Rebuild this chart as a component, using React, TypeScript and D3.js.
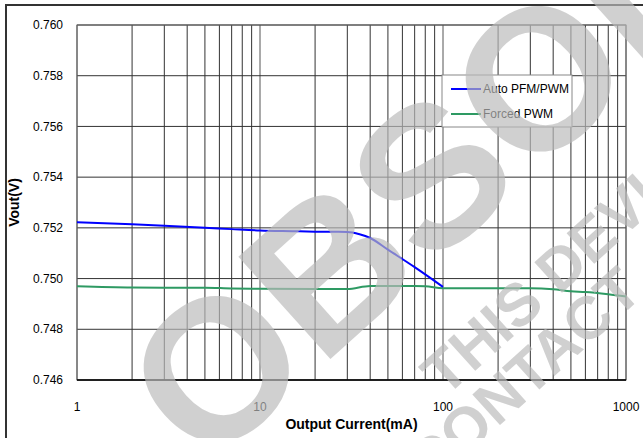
import React from "react";
import * as d3 from "d3";

const currentsAuto = [1, 2, 3, 5, 7, 10, 15, 20, 30, 35, 40, 50, 70, 100];
const vAuto = [0.75222, 0.75214, 0.75208, 0.752, 0.75195, 0.7519, 0.75187, 0.75185, 0.75184, 0.75175, 0.7516, 0.75114, 0.75045, 0.74967];
const currentsForced = [1, 2, 3, 5, 7, 10, 20, 30, 40, 50, 70, 80, 100, 200, 300, 400, 500, 600, 800, 1000];
const vForced = [0.7497, 0.74965, 0.74964, 0.74964, 0.74961, 0.7496, 0.74959, 0.74959, 0.74971, 0.74971, 0.74971, 0.7497, 0.74962, 0.74962, 0.74962, 0.74958, 0.7495, 0.74947, 0.74938, 0.74929];
const yTicks = [0.746, 0.748, 0.75, 0.752, 0.754, 0.756, 0.758, 0.76];
const xTicks = [1, 10, 100, 1000];
const seriesNames = ["Auto PFM/PWM", "Forced PWM"];
const seriesColors = ["#0000ff", "#2e9a63"];

const W = 643, H = 438;
const L = 77, R = 626, T = 25, B = 380;
const font = "'Liberation Sans', Arial, sans-serif";

export default function App() {
  const x = d3.scaleLog().domain([1, 1000]).range([L, R]);
  const y = d3.scaleLinear().domain([0.746, 0.76]).range([B, T]);
  const minor: number[] = [];
  for (let d = 1; d < 1000; d *= 10) for (let k = 2; k <= 9; k++) minor.push(d * k);
  const line = d3.line<[number, number]>().x(d => x(d[0])).y(d => y(d[1])).curve(d3.curveMonotoneX);
  const autoPts = currentsAuto.map((c, i) => [c, vAuto[i]] as [number, number]);
  const forcedPts = currentsForced.map((c, i) => [c, vForced[i]] as [number, number]);
  const wm = { fill: "#bbbbbb", opacity: 0.68, fontFamily: font, fontWeight: 700 } as const;
  return (
    <svg width={W} height={H} style={{ position: "absolute", left: 0, top: 0, background: "#fff" }}>
      <rect x={6} y={5} width={W} height={H} fill="#fff" stroke="#333" strokeWidth={2} />
      {minor.map(v => (
        <line key={"m" + v} x1={x(v)} x2={x(v)} y1={T} y2={B} stroke="#333" strokeWidth={1} />
      ))}
      {xTicks.map(v => (
        <line key={"M" + v} x1={x(v)} x2={x(v)} y1={T} y2={B} stroke="#555" strokeWidth={1} />
      ))}
      {yTicks.map(v => (
        <line key={"h" + v} x1={L} x2={R} y1={y(v)} y2={y(v)} stroke="#333" strokeWidth={1} />
      ))}
      <rect x={L} y={T} width={R - L} height={B - T} fill="none" stroke="#666" strokeWidth={1} />
      <line x1={L} x2={R} y1={B} y2={B} stroke="#000" strokeWidth={1.5} />
      <path d={line(forcedPts) || ""} fill="none" stroke={seriesColors[1]} strokeWidth={2} />
      <path d={line(autoPts) || ""} fill="none" stroke={seriesColors[0]} strokeWidth={2} />
      {yTicks.map(v => (
        <text key={"yl" + v} x={63} y={y(v)} dy="0.35em" textAnchor="end" fontFamily={font} fontSize={12}>
          {v.toFixed(3)}
        </text>
      ))}
      {xTicks.map(v => (
        <text key={"xl" + v} x={x(v)} y={411} textAnchor="middle" fontFamily={font} fontSize={12}>
          {v}
        </text>
      ))}
      <text x={(L + R) / 2} y={429} textAnchor="middle" fontFamily={font} fontSize={14} fontWeight={700}>
        Output Current(mA)
      </text>
      <text transform={`translate(19,${(T + B) / 2}) rotate(-90)`} textAnchor="middle" fontFamily={font} fontSize={14} fontWeight={700}>
        Vout(V)
      </text>
      <rect x={442} y={75} width={130} height={52} fill="#fff" stroke="#888" strokeWidth={1} />
      {seriesNames.map((n, i) => (
        <g key={n}>
          <line x1={451} x2={481} y1={89 + i * 25} y2={89 + i * 25} stroke={seriesColors[i]} strokeWidth={2} />
          <text x={483} y={89 + i * 25} dy="0.35em" fontFamily={font} fontSize={12}>{n}</text>
        </g>
      ))}
      <text transform="translate(205,472) rotate(-42)" fontSize={200} {...wm}>OBSOLETE</text>
      <text transform="translate(445,398) rotate(-42)" fontSize={60} {...wm}>THIS DEVICE</text>
      <text transform="translate(430,488) rotate(-42)" fontSize={60} {...wm}>CONTACT</text>
    </svg>
  );
}
